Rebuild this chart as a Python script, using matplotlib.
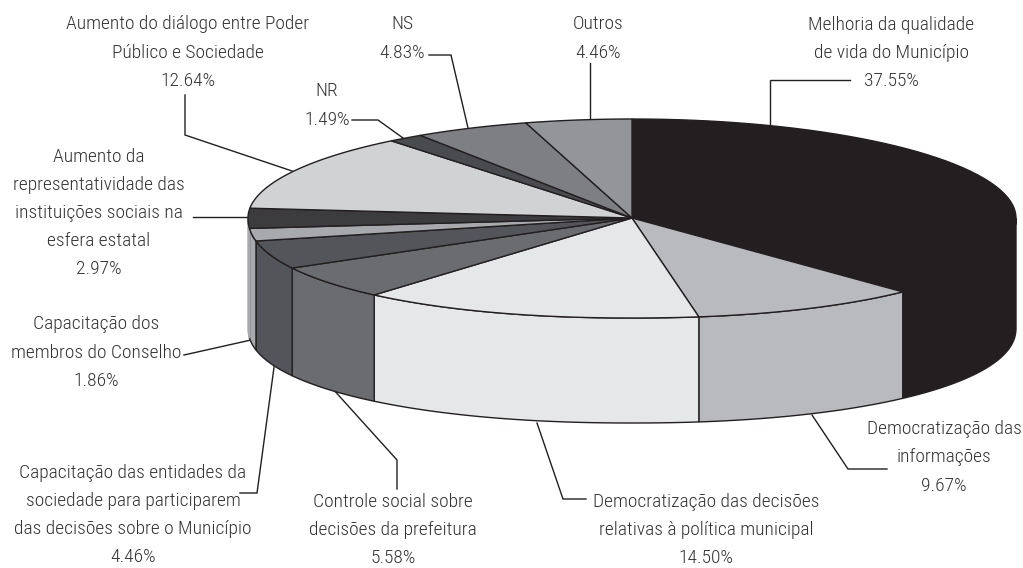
import numpy as np
import matplotlib
matplotlib.use("Agg")
import matplotlib.pyplot as plt
from matplotlib.patches import Polygon

labels = [
    "Melhoria da qualidade\nde vida do Município",
    "Democratização das\ninformações",
    "Democratização das decisões\nrelativas à política municipal",
    "Controle social sobre\ndecisões da prefeitura",
    "Capacitação das entidades da\nsociedade para participarem\ndas decisões sobre o Município",
    "Capacitação dos\nmembros do Conselho",
    "Aumento da\nrepresentatividade das\ninstituições sociais na\nesfera estatal",
    "Aumento do diálogo entre Poder\nPúblico e Sociedade",
    "NR",
    "NS",
    "Outros",
]
values = [37.55, 9.67, 14.50, 5.58, 4.46, 1.86, 2.97, 12.64, 1.49, 4.83, 4.46]
top_colors = ["#231f20", "#b9babd", "#e6e7e9", "#6b6c70", "#54555a", "#a7a9ac",
              "#3c3c3e", "#d1d2d4", "#4a4b4e", "#7e7f83", "#939598"]
side_colors = ["#231f20", "#b9babd", "#e6e7e9", "#6b6c70", "#54555a", "#a7a9ac",
               "#a7a9ac", "#d1d2d4", "#4a4b4e", "#7e7f83", "#939598"]

# label block: centre x, y of first line centre, y of last line centre
text_pos = [
    (891, 23, 83), (944, 429, 486), (706, 501, 559), (393, 501, 559),
    (133, 471, 559), (96, 323, 382), (99, 154, 272), (188, 23, 82),
    (327, 91, 120), (402, 24, 53), (598, 24, 53),
]
leaders = [
    [(770, 124), (770, 80), (850, 80)],
    [(812, 415), (848, 469), (887, 469)],
    [(537, 423), (563, 499), (586, 499)],
    [(332, 388), (397, 460), (397, 489)],
    [(275, 360), (257, 493), (240, 493)],
    [(251, 340), (184, 355)],
    [(249, 217), (193, 217)],
    [(295, 172), (185, 135), (185, 95)],
    [(403, 138), (378, 120), (352, 120)],
    [(468, 128), (451, 55), (429, 55)],
    [(590, 119), (590, 63)],
]

cx, cy, rx, ry, depth = 632, 218, 384, 99, 110


def rim(t):
    # t in degrees clockwise from 12 o'clock
    t = np.radians(t)
    s, c = np.sin(t), np.cos(t)
    x = cx + rx * s
    y = cy - ry * c
    y = np.where(c < 0, cy + (ry + 1) * (1 - np.abs(s) ** 2.13) ** (1 / 2.13), y)
    return x, y


fig = plt.figure(figsize=(10.23, 5.68), dpi=100)
ax = fig.add_axes([0, 0, 1, 1])
ax.set_xlim(0, 1023)
ax.set_ylim(568, 0)
ax.axis("off")

edges = np.concatenate([[0], np.cumsum(values) / sum(values) * 360])

for i in range(len(values)):
    a0 = max(edges[i], 90)
    a1 = min(edges[i + 1], 270)
    if a1 <= a0:
        continue
    t = np.linspace(a0, a1, 60)
    x, y = rim(t)
    yb = y + depth - 5 * np.abs(np.cos(np.radians(t)))
    pts = np.r_[np.c_[x, y], np.c_[x, yb][::-1]]
    ax.add_patch(Polygon(pts, fc=side_colors[i], ec="#231f20" if i != 6 else side_colors[i],
                         lw=1.0, zorder=2))

for i in range(len(values)):
    x, y = rim(np.linspace(edges[i], edges[i + 1], 60))
    pts = np.r_[[(cx, cy)], np.c_[x, y]]
    ax.add_patch(Polygon(pts, fc=top_colors[i], ec="#231f20", lw=1.0, zorder=3))

for line in leaders:
    xs, ys = zip(*line)
    ax.plot(xs, ys, color="#231f20", lw=1.0, zorder=1, solid_joinstyle="miter")

for lab, v, (x, y0, y1) in zip(labels, values, text_pos):
    ax.text(x, (y0 + y1) / 2, f"{lab}\n{v:.2f}%", ha="center", va="center", fontsize=14,
            color="#333335", family=["Roboto Condensed", "DejaVu Sans"], fontweight="light",
            linespacing=1.73, zorder=4)

fig.savefig("out.png", dpi=100)
